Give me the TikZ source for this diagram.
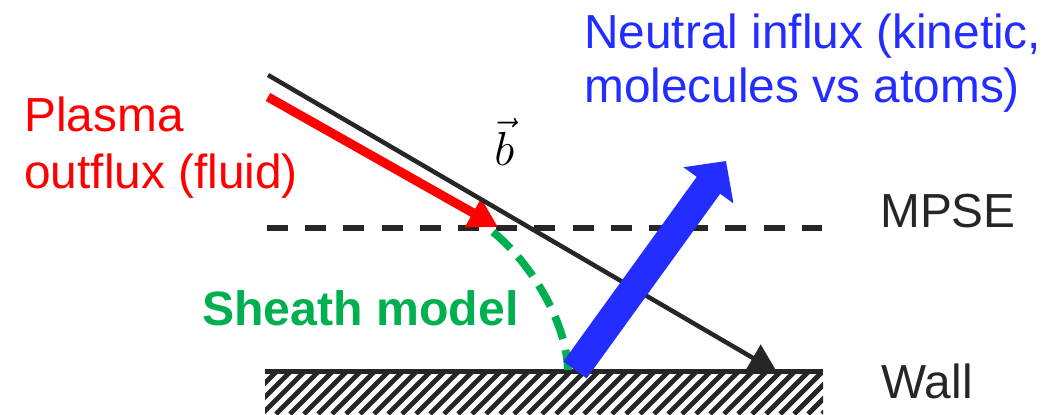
\RequirePackage{fix-cm}
\documentclass[tikz,border=0pt]{standalone}
\usepackage{fontspec}
\setmainfont{Liberation Sans}
\usetikzlibrary{arrows.meta}
\definecolor{plasmared}{RGB}{255,0,0}
\definecolor{neutralblue}{RGB}{35,45,255}
\definecolor{sheathgreen}{RGB}{0,176,80}
\definecolor{linegray}{RGB}{38,38,38}
\begin{document}
\begin{tikzpicture}[>=Triangle,
    lbl/.style={inner sep=0pt,anchor=base west,align=left,font=\fontsize{34}{40.5}\selectfont}]
    \useasboundingbox (0,0) rectangle (26.375,10.35);
    % punti
    \coordinate (bstart) at (6.7,8.475);
    \coordinate (bend) at (19.425,1.05);
    \coordinate (pstart) at (6.7,7.925);
    \coordinate (ptip) at (12.45,4.675);
    \coordinate (sstart) at (12.325,4.55);
    \coordinate (send) at (14.2,1.1);
    \coordinate (nstart) at (14.375,1.1);
    \coordinate (ntip) at (18.15,6.325);
    % MPSE
    \draw[linegray,line width=4pt,dash pattern=on 0.525cm off 0.43cm] (6.675,4.65) -- (20.55,4.65);
    % flussi
    \draw[plasmared,line width=6.5pt,-{Triangle[length=0.72cm,width=0.78cm]}] (pstart) -- (ptip);
    \draw[linegray,line width=3.2pt,-{Triangle[length=0.7cm,width=0.75cm]}] (bstart) -- (bend);
    % parete
    \begin{scope}
        \clip (6.625,0) rectangle (20.575,1.0);
        \fill[white] (6.625,0) rectangle (20.575,1.0);
        \foreach \x in {5.5,5.85,...,20.6}
            \draw[linegray,line width=3.5pt] (\x,0) -- ++(1.1,1.1);
    \end{scope}
    \draw[linegray,line width=4pt] (6.625,1.0625) -- (20.575,1.0625);
    % sheath
    \draw[sheathgreen,line width=5.5pt,dash pattern=on 0.6cm off 0.28cm]
        (sstart) .. controls (13.25,3.8) and (14.15,2.35) .. (send);
    \draw[neutralblue,line width=20.5pt,-{Triangle[length=0.75cm,width=1.5cm]}] (nstart) -- (ntip);
    % etichette
    \node[lbl,text=plasmared] (plasma) at (0.6,5.65) {Plasma\\outflux (fluid)};
    \node[lbl,text=neutralblue,font=\fontsize{34}{38.3}\selectfont] (neutral) at (14.6,7.8)
        {Neutral influx (kinetic,\\molecules vs atoms)};
    \node[lbl,font=\fontsize{34}{40}\selectfont] (bvec) at (12.35,6.225) {$\vec{b}$};
    \node[lbl,text=linegray] (mpse) at (22.0,4.675) {MPSE};
    \node[lbl,text=linegray] (wall) at (22.03,0.4) {Wall};
    \node[lbl,text=sheathgreen,font=\fontsize{34.3}{40}\selectfont\bfseries] (sheath) at (5.05,2.225) {Sheath model};
\end{tikzpicture}
\end{document}
